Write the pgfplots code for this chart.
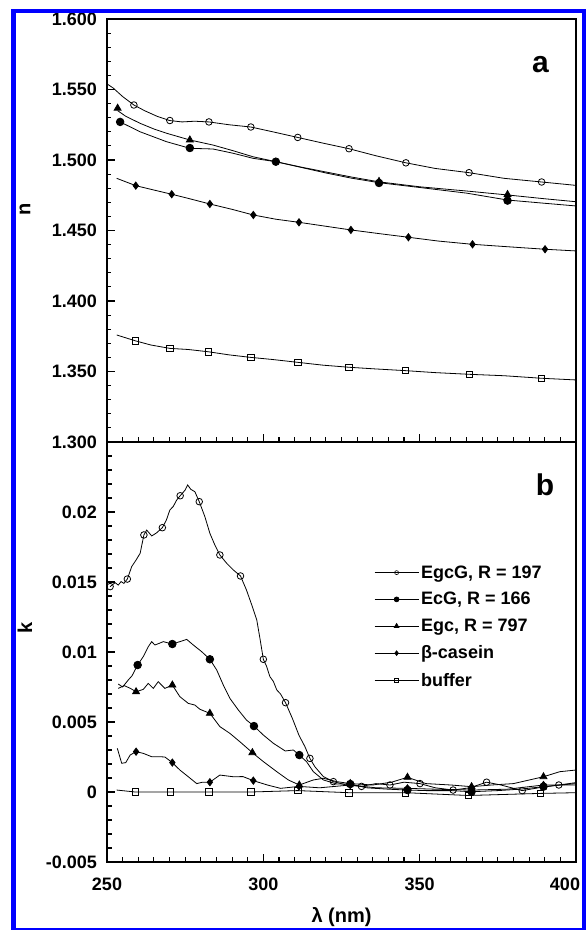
\documentclass[border=0pt]{standalone}
\usepackage{pgfplots}
\pgfplotsset{compat=1.18}
\usepackage{fontspec}
\setmainfont{Liberation Sans}

\pgfplotsset{
  panel/.style={
    scale only axis, width=469pt,
    xmin=250, xmax=400,
    xtick={250,300,350,400}, minor x tick num=9,
    tick pos=left, tick align=inside,
    scaled ticks=false,
    axis line style={line width=1.8pt},
    major tick style={line width=1.3pt, black},
    minor tick style={line width=1.1pt, black},
    major tick length=8pt, minor tick length=4.5pt,
    tick label style={font=\fontsize{18}{18}\selectfont\bfseries},
    yticklabel style={inner sep=0pt, xshift=-10pt},
    xticklabel style={inner sep=0pt, yshift=-16pt},
    label style={font=\fontsize{20}{20}\selectfont\bfseries},
    ylabel style={rotate=0, anchor=center, inner sep=0pt},
    legend image code/.code={
      \draw[mark repeat=2, mark phase=2, #1] plot coordinates {(0pt,0pt) (22pt,0pt) (44pt,0pt)};
    },
  },
  ln/.style={black, line width=0.8pt, no marks},
  mk/.style={only marks, black, line width=0.8pt},
}

\begin{document}
\begin{tikzpicture}
\useasboundingbox (0,0) rectangle (586pt,930pt);
\begin{scope}
\clip (15.5pt,2pt) rectangle (582pt,916.5pt);

% ---- panel a: refractive index n ----
\begin{axis}[panel, at={(107pt,488pt)}, anchor=south west, height=423pt,
  ymin=1.3, ymax=1.6,
  ytick={1.3,1.35,1.4,1.45,1.5,1.55,1.6}, minor y tick num=4,
  yticklabels={1.300,1.350,1.400,1.450,1.500,1.550,1.600},
  xticklabels={},
  ylabel={n},
  ylabel style={at={(axis description cs:-0.175,0.551)}},
]
% EgcG
\addplot[ln] coordinates {(250,1.554) (252,1.551) (255,1.545) (258.6,1.539) (262,1.535) (266,1.531) (270,1.528) (274,1.527) (278,1.5275) (282.6,1.527) (289,1.525) (296,1.5234) (303,1.520) (311,1.516) (319,1.512) (327.4,1.508) (336,1.503) (345.6,1.498) (355,1.494) (365.8,1.491) (377,1.487) (389,1.4844) (400,1.482)};
\addplot[mk, mark=o, mark size=3.3pt] coordinates {(258.6,1.539) (270.1,1.528) (282.6,1.527) (296,1.5234) (311,1.516) (327.4,1.508) (345.6,1.498) (365.8,1.491) (389,1.4844)};
% Egc
\addplot[ln] coordinates {(253.4,1.535) (256,1.531) (260.6,1.526) (265,1.522) (269,1.519) (276.5,1.5142) (283.9,1.5106) (290.3,1.5066) (296.7,1.5023) (304,1.4988) (312,1.495) (320,1.4915) (328,1.488) (337,1.4845) (350,1.481) (365,1.478) (378.1,1.4752) (390,1.4725) (400,1.4704)};
\addplot[mk, mark=triangle*, mark size=4pt] coordinates {(253.4,1.5367) (276.5,1.5142) (337,1.4848) (378.1,1.4755)};
% EcG
\addplot[ln] coordinates {(254.2,1.527) (260.6,1.520) (269,1.513) (276.5,1.5083) (283.9,1.5078) (290.3,1.5048) (296.7,1.5012) (304,1.4988) (312,1.4948) (320,1.4908) (328,1.4872) (337,1.4839) (350,1.4805) (365,1.4765) (378.1,1.4716) (390,1.4693) (400,1.4674)};
\addplot[mk, mark=*, mark size=3.8pt] coordinates {(254.2,1.527) (276.5,1.5085) (304,1.4988) (337,1.4837) (378.1,1.4712)};
% beta-casein
\addplot[ln] coordinates {(253.1,1.487) (259.2,1.4818) (265,1.4787) (270.7,1.4757) (277,1.4722) (282.9,1.4688) (290,1.4650) (296.8,1.4610) (304,1.4580) (311.4,1.4558) (320,1.4530) (328,1.4504) (337,1.4478) (346.4,1.4452) (356,1.4425) (366.9,1.4402) (378,1.4385) (390.1,1.4367) (400,1.4355)};
\addplot[mk, mark=diamond*, mark size=3.6pt] coordinates {(259.2,1.4818) (270.7,1.4757) (282.9,1.4688) (296.8,1.4610) (311.4,1.4558) (328,1.4504) (346.4,1.4452) (366.9,1.4402) (390.1,1.4367)};
% buffer
\addplot[ln] coordinates {(253.1,1.3759) (259,1.3718) (264,1.3688) (270.1,1.3664) (276,1.3656) (282.4,1.3640) (289,1.3618) (296,1.3600) (303,1.3585) (311,1.3565) (319,1.3545) (327.4,1.3530) (336,1.3518) (345.5,1.3506) (355,1.3492) (365.9,1.3480) (377,1.3470) (389,1.3452) (400,1.3440)};
\addplot[mk, mark=square, mark size=3.2pt] coordinates {(259,1.3718) (270.1,1.3664) (282.4,1.3640) (296,1.3600) (311,1.3565) (327.4,1.3530) (345.5,1.3506) (365.9,1.3480) (389,1.3452)};
\node[font=\fontsize{30}{30}\selectfont\bfseries, anchor=base] at (axis cs:388.6,1.5624) {a};
\end{axis}

% ---- panel b: extinction coefficient k ----
\begin{axis}[panel, at={(107pt,68pt)}, anchor=south west, height=420pt,
  ymin=-0.005, ymax=0.025,
  ytick={-0.005,0,0.005,0.01,0.015,0.02,0.025}, minor y tick num=4,
  yticklabels={-0.005,0,0.005,0.01,0.015,0.02,},
  xticklabels={250,300,350,\makebox[0pt]{\hspace*{-22pt}400}},
  ylabel={k},
  ylabel style={at={(axis description cs:-0.175,0.557)}},
  xlabel={λ (nm)},
  xlabel style={at={(axis description cs:0.5,-0.108)}, anchor=north, inner sep=0pt},
  legend style={draw=none, fill=none, at={(0.5693,0.711)}, anchor=north west,
    inner sep=0pt, row sep=8.7pt, font=\fontsize{18}{18}\selectfont\bfseries,
    nodes={inner sep=2pt}},
  legend cell align=left,
]
\addlegendimage{black, line width=0.6pt, mark=o, mark size=2pt}
\addlegendentry{EgcG, R = 197}
\addlegendimage{black, line width=0.8pt, mark=*, mark size=2.4pt}
\addlegendentry{EcG, R = 166}
\addlegendimage{black, line width=0.8pt, mark=triangle*, mark size=2.6pt}
\addlegendentry{Egc, R = 797}
\addlegendimage{black, line width=0.6pt, mark=diamond*, mark size=2.4pt}
\addlegendentry{β-casein}
\addlegendimage{black, line width=0.6pt, mark=square, mark size=2pt}
\addlegendentry{buffer}
% EgcG
\addplot[ln, forget plot] coordinates {(251,0.01467) (252.6,0.01495) (253.6,0.01478) (254.5,0.01503) (255.4,0.01490) (256.5,0.01521) (257.9,0.0161) (259.3,0.01657) (260.6,0.01705) (261.8,0.01836) (262.7,0.01871) (263.5,0.01850) (264.3,0.01829) (265.8,0.01850) (267.7,0.01888) (269,0.01943) (270.1,0.02014) (271.2,0.02040) (272.3,0.02086) (273.4,0.02116) (275,0.02157) (275.8,0.02193) (276.8,0.02162) (278.1,0.02145) (279.5,0.02074) (281.3,0.01967) (282.9,0.01848) (284.5,0.01764) (286.1,0.01693) (288.3,0.01633) (290.4,0.01586) (292.7,0.01543) (294.6,0.01443) (296.3,0.01336) (297.9,0.01229) (299,0.01086) (300,0.00948) (301,0.00900) (302.1,0.00824) (303.2,0.00790) (304.3,0.00729) (305.5,0.00700) (307.1,0.00638) (309.3,0.00525) (311.4,0.00405) (313.3,0.00324) (314.9,0.0024) (316.5,0.0018) (319.2,0.0011) (322.4,0.00074) (326.6,0.0005) (331.4,0.0004) (336,0.0006) (340.5,0.0005) (345,0.0007) (350.1,0.0006) (355,0.0003) (360.7,0.00014) (366,0.0003) (371.4,0.0007) (376,0.0005) (382.8,0.0001) (388,0.0003) (394.5,0.0005) (400,0.00067)};
\addplot[mk, mark=o, mark size=3.3pt, forget plot] coordinates {(251,0.01467) (256.5,0.01521) (261.8,0.01836) (267.7,0.01888) (273.4,0.02116) (279.5,0.02074) (286.1,0.01693) (292.7,0.01543) (300,0.00948) (307.1,0.00638) (314.9,0.0024) (322.4,0.00074) (331.4,0.0004) (340.5,0.0005) (350.1,0.0006) (360.7,0.00014) (371.4,0.0007) (382.8,0.0001) (394.5,0.0005)};
% EcG
\addplot[ln, forget plot] coordinates {(253.6,0.00771) (255,0.0075) (256.8,0.0080) (258,0.0083) (259.8,0.00907) (261.6,0.00967) (263.2,0.01038) (264.3,0.01074) (265.3,0.0105) (266.5,0.0106) (268,0.01074) (270.9,0.01057) (273.3,0.01074) (275.5,0.0109) (277.6,0.0105) (280.3,0.01002) (282.9,0.00948) (285.1,0.00871) (287.2,0.00764) (289.3,0.00669) (292,0.00586) (294.6,0.00514) (297,0.00471) (300,0.00407) (303.2,0.00348) (307,0.00293) (309.6,0.0030) (311.5,0.00264) (313.8,0.00217) (316,0.00145) (319.2,0.00086) (323.5,0.00057) (327.8,0.00057) (333,0.0003) (340,0.0002) (346.1,0.00014) (352,0.0001) (360,0.0001) (366.6,0.00002) (375,0.0001) (382,0.0002) (389.6,0.00038) (395,0.0005) (400,0.0006)};
\addplot[mk, mark=*, mark size=3.8pt, forget plot] coordinates {(259.8,0.00907) (270.9,0.01057) (282.9,0.00948) (297,0.00471) (311.5,0.00264) (327.8,0.00057) (346.1,0.00014) (366.6,0.00002) (389.6,0.00038)};
% Egc
\addplot[ln, forget plot] coordinates {(253.6,0.0074) (255.5,0.0076) (257.5,0.0074) (259.3,0.00716) (261.6,0.00733) (263.2,0.00776) (264.8,0.0074) (266.4,0.00788) (268.5,0.0074) (270.9,0.00764) (273.3,0.00681) (276,0.00633) (278.1,0.00621) (279.7,0.00591) (282.9,0.00562) (286.1,0.00467) (289.3,0.00419) (292.5,0.00359) (296.5,0.00281) (300,0.00217) (304.3,0.00145) (308,0.00086) (311.5,0.0005) (316,0.00086) (319.2,0.00098) (323.5,0.00074) (327.8,0.0006) (335,0.0005) (341,0.0007) (346.1,0.00105) (352,0.0006) (360,0.0005) (366.6,0.00038) (373,0.0005) (380,0.0006) (389.6,0.00109) (394.8,0.00145) (400,0.00157)};
\addplot[mk, mark=triangle*, mark size=4pt, forget plot] coordinates {(259.3,0.00716) (270.9,0.00764) (282.9,0.00562) (296.5,0.00281) (311.5,0.0005) (327.8,0.0006) (346.1,0.00105) (366.6,0.00038) (389.6,0.00109)};
% beta-casein
\addplot[ln, forget plot] coordinates {(253.3,0.00312) (254.7,0.00205) (256,0.0021) (257.4,0.00264) (259.3,0.00288) (261.6,0.00276) (264.3,0.00252) (266.9,0.00252) (268.5,0.0025) (270.9,0.0021) (273.3,0.00157) (276,0.00109) (278.7,0.0006) (280.5,0.0007) (282.9,0.0007) (286.1,0.00121) (290.4,0.00109) (293.5,0.0011) (296.8,0.00081) (301.3,0.0005) (305.5,0.00026) (311.4,0.0004) (318,0.0003) (327.8,0.0005) (336,0.0003) (346.1,0.00026) (355,0.0002) (366.6,0.00014) (378,0.0002) (389.6,0.0005) (400,0.0005)};
\addplot[mk, mark=diamond*, mark size=3.6pt, forget plot] coordinates {(259.3,0.00288) (270.9,0.0021) (282.9,0.0007) (296.8,0.00081) (311.4,0.0004) (327.8,0.0005) (346.1,0.00026) (366.6,0.00014) (389.6,0.0005)};
% buffer
\addplot[ln, forget plot] coordinates {(253.1,0.00014) (259,0) (270.3,0) (282.6,0) (296,0) (311,0.0001) (327.4,-0.00005) (345.5,-0.00005) (365.6,-0.00025) (388.7,-0.0001) (400,-0.00005)};
\addplot[mk, mark=square, mark size=3.2pt, forget plot] coordinates {(259,0) (270.3,0) (282.6,0) (296,0) (311,0.0001) (327.4,-0.00005) (345.5,-0.00005) (365.6,-0.00025) (388.7,-0.0001)};
\node[font=\fontsize{30}{30}\selectfont\bfseries, anchor=base] at (axis cs:390.1,0.02121) {b};
\end{axis}
\end{scope}

% blue frame
\fill[blue] (11pt,0pt) rectangle (15.5pt,921pt);
\fill[blue] (11pt,916.5pt) rectangle (586pt,921pt);
\fill[blue] (582pt,0pt) rectangle (586pt,921pt);
\fill[blue] (11pt,0pt) rectangle (586pt,2pt);
\end{tikzpicture}
\end{document}
